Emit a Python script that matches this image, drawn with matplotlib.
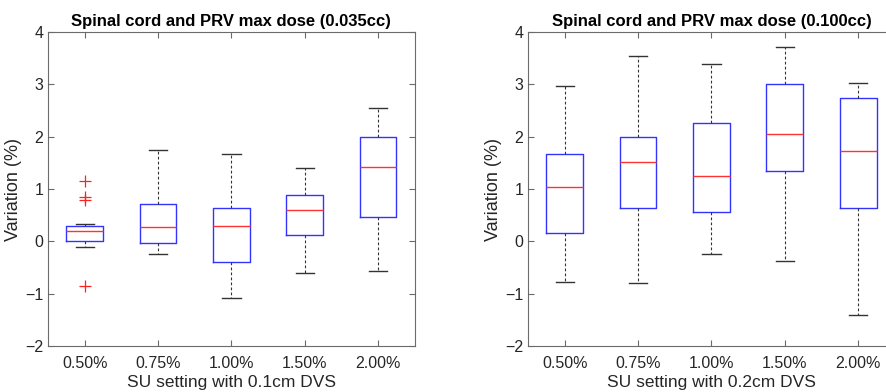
import matplotlib.pyplot as plt

plt.rcParams['font.family'] = ['Liberation Sans', 'DejaVu Sans']

categories = ["0.50%", "0.75%", "1.00%", "1.50%", "2.00%"]

# left panel: 0.035cc, 0.1cm DVS
left_whislo = [-0.10, -0.24, -1.09, -0.61, -0.56]
left_q1 = [0.013, -0.025, -0.395, 0.115, 0.47]
left_med = [0.19, 0.27, 0.30, 0.605, 1.43]
left_q3 = [0.30, 0.72, 0.63, 0.88, 1.99]
left_whishi = [0.325, 1.75, 1.66, 1.41, 2.54]
left_fliers = [[1.15, 0.85, 0.79, -0.85], [], [], [], []]

# right panel: 0.100cc, 0.2cm DVS
right_whislo = [-0.77, -0.80, -0.24, -0.38, -1.40]
right_q1 = [0.165, 0.64, 0.57, 1.34, 0.63]
right_med = [1.045, 1.51, 1.24, 2.06, 1.73]
right_q3 = [1.675, 1.99, 2.27, 3.00, 2.745]
right_whishi = [2.97, 3.55, 3.38, 3.71, 3.02]
right_fliers = [[], [], [], [], []]

text_col = "#262626"
axis_col = "#6b6b6b"


def make_stats(lo, q1, med, q3, hi, fl):
    stats = []
    for i in range(len(categories)):
        stats.append(dict(whislo=lo[i], q1=q1[i], med=med[i], q3=q3[i],
                          whishi=hi[i], fliers=fl[i], label=categories[i]))
    return stats


def draw_panel(ax, stats, title, xlabel):
    ax.bxp(stats, positions=range(1, len(stats) + 1), widths=0.5,
           showfliers=True,
           boxprops=dict(color="#3333ff", linewidth=1.0),
           medianprops=dict(color="#ff3333", linewidth=1.0),
           whiskerprops=dict(color="#333333", linestyle=(0, (2.5, 2)), linewidth=0.8),
           capprops=dict(color="#333333", linewidth=1.0),
           capwidths=0.25,
           flierprops=dict(marker="+", markeredgecolor="#ff2020",
                           markersize=8, markeredgewidth=0.9, linestyle="none"))
    ax.set_xlim(0.5, 5.5)
    ax.set_ylim(-2, 4)
    ax.set_yticks(range(-2, 5))
    ax.set_xticks(range(1, 6))
    ax.set_xticklabels(categories)
    ax.tick_params(direction="in", top=True, right=True, length=4,
                   labelsize=11.5, colors=axis_col, labelcolor=text_col, width=0.8)
    ax.tick_params(axis="x", pad=7)
    for s in ax.spines.values():
        s.set_color(axis_col)
        s.set_linewidth(0.8)
    ax.set_title(title, fontsize=12, fontweight="bold", color="black", pad=4)
    ax.set_xlabel(xlabel, fontsize=12.5, color=text_col, labelpad=3)
    ax.set_ylabel("Variation (%)", fontsize=13, color=text_col, labelpad=2)


fig = plt.figure(figsize=(8.86, 3.92), dpi=100)
ax1 = fig.add_axes([0.0542, 0.1173, 0.414, 0.801])
ax2 = fig.add_axes([0.596, 0.1173, 0.414, 0.801])

draw_panel(ax1, make_stats(left_whislo, left_q1, left_med, left_q3, left_whishi, left_fliers),
           "Spinal cord and PRV max dose (0.035cc)", "SU setting with 0.1cm DVS")
draw_panel(ax2, make_stats(right_whislo, right_q1, right_med, right_q3, right_whishi, right_fliers),
           "Spinal cord and PRV max dose (0.100cc)", "SU setting with 0.2cm DVS")

fig.savefig("out.png", dpi=100)
